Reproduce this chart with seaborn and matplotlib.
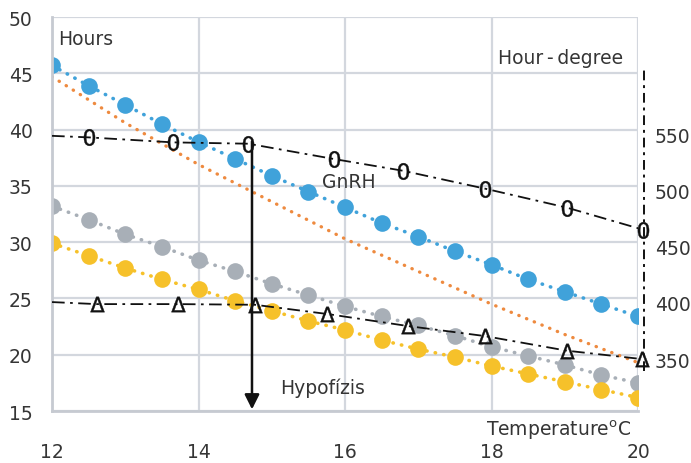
import numpy as np
import pandas as pd
import seaborn as sns
import matplotlib.pyplot as plt

# temperature steps for the dotted series
temp = [12, 12.5, 13, 13.5, 14, 14.5, 15, 15.5, 16, 16.5, 17, 17.5, 18, 18.5, 19, 19.5, 20]
blue_hours = [45.7, 43.9, 42.2, 40.5, 38.9, 37.4, 35.9, 34.5, 33.1, 31.7, 30.5, 29.2, 28.0, 26.7, 25.6, 24.5, 23.4]
grey_hours = [33.2, 32.0, 30.7, 29.6, 28.4, 27.4, 26.3, 25.3, 24.3, 23.4, 22.6, 21.7, 20.7, 19.9, 19.1, 18.2, 17.5]
yellow_hours = [29.9, 28.8, 27.7, 26.7, 25.8, 24.8, 23.9, 23.0, 22.2, 21.3, 20.5, 19.8, 19.0, 18.3, 17.6, 16.9, 16.2]

orange_temp = [12, 13, 14, 15, 16, 17, 18, 19, 20]
orange_hours = [44.7, 40.6, 36.9, 33.6, 30.3, 27.4, 24.5, 21.8, 19.3]

# hour-degree curves (right axis)
gnrh_temp = [12, 12.51, 13.65, 14.68, 15.85, 16.79, 17.91, 19.03, 20.07]
gnrh_hd = [548.5, 547.1, 542.7, 541.5, 527.9, 517.5, 501.6, 484.7, 465.1]
gnrh_marked = [False, True, True, True, True, True, True, True, True]

hypo_temp = [12, 12.61, 13.72, 14.77, 15.76, 16.86, 17.91, 19.03, 20.05]
hypo_hd = [400.8, 399.0, 399.0, 398.4, 390.2, 379.5, 370.6, 357.6, 350.2]
hypo_marked = [False, True, True, True, True, True, True, True, True]

x_ticks = [12, 14, 16, 18, 20]
left_ticks = [15, 20, 25, 30, 35, 40, 45, 50]
right_ticks = [350, 400, 450, 500, 550]

txt = '#353535'
grid_c = '#d3d7de'
fs = 13.5

sns.set_theme(style='white')
plt.rcParams['font.family'] = ['DejaVu Sans']

fig, ax = plt.subplots(figsize=(6.91, 4.64), dpi=100)
fig.subplots_adjust(left=0.0753, right=0.9233, bottom=0.112, top=0.961)

dot_style = dict(linestyle=(0, (0.1, 2.3)), dash_capstyle='round', linewidth=2.6,
                 marker='o', markersize=12, markeredgewidth=0)

df = pd.DataFrame({'temp': temp, 'blue': blue_hours, 'grey': grey_hours, 'yellow': yellow_hours})
sns.lineplot(data=df, x='temp', y='grey', color='#a8afb7', ax=ax, **dot_style)
sns.lineplot(data=df, x='temp', y='yellow', color='#f6c12a', ax=ax, **dot_style)
sns.lineplot(data=df, x='temp', y='blue', color='#40a2da', ax=ax, **dot_style)
sns.lineplot(x=orange_temp, y=orange_hours, color='#ee8a3f', ax=ax,
             linestyle=(0, (0.1, 2.4)), dash_capstyle='round', linewidth=2.4)

ax.set_xlim(12, 20)
ax.set_ylim(15, 50)
ax.set_xticks(x_ticks)
ax.set_yticks(left_ticks)
ax.set_xlabel('')
ax.set_ylabel('')
ax.grid(True, color=grid_c, linewidth=1.6)
ax.set_axisbelow(True)
for side in ['top', 'right']:
    ax.spines[side].set_visible(False)
for side in ['left', 'bottom']:
    ax.spines[side].set_color('#c6cad1')
    ax.spines[side].set_linewidth(2)
ax.tick_params(axis='x', length=0, pad=22, labelsize=fs, labelcolor=txt)
ax.tick_params(axis='y', length=0, pad=14, labelsize=fs, labelcolor=txt)

ax2 = ax.twinx()
ax2.set_ylim(304, 654)
ax2.set_yticks(right_ticks)
for side in ax2.spines:
    ax2.spines[side].set_visible(False)
ax2.tick_params(axis='y', length=0, pad=12, labelsize=fs, labelcolor=txt)

dashdot = (0, (7, 3, 1.5, 3))
sns.lineplot(x=gnrh_temp, y=gnrh_hd, color='#111111', linewidth=1.3, linestyle=dashdot, ax=ax2)
sns.lineplot(x=hypo_temp, y=hypo_hd, color='#111111', linewidth=1.3, linestyle=dashdot, ax=ax2)
ax2.plot([t for t, m in zip(gnrh_temp, gnrh_marked) if m], [v for v, m in zip(gnrh_hd, gnrh_marked) if m],
         linestyle='none', marker='$0$', markersize=12, markeredgewidth=0.3, color='#111111', clip_on=False)
ax2.plot([t for t, m in zip(hypo_temp, hypo_marked) if m], [v for v, m in zip(hypo_hd, hypo_marked) if m],
         linestyle='none', marker=r'$\Delta$', markersize=11, markeredgewidth=0.3, color='#111111',
         clip_on=False)

# right axis rule
ax2.plot([20.08, 20.08], [340, 608], color='#111111', linewidth=1.4, linestyle=(0, (5, 2.5, 1.5, 2.5)),
         clip_on=False)

# arrow
ax2.annotate('', xy=(14.73, 305.5), xytext=(14.73, 543.5),
             arrowprops=dict(arrowstyle='-|>', color='#111111', lw=1.8, mutation_scale=22,
                             shrinkA=0, shrinkB=0))
ax2.set_xlim(12, 20)
ax2.set_ylabel('')

ax.text(12.08, 48.1, 'Hours', fontsize=fs, color=txt, va='center', ha='left')
ax.text(19.8, 46.4, 'Hour\u2009-\u2009degree', fontsize=fs, color=txt, va='center', ha='right')
ax.text(15.69, 35.4, 'GnRH', fontsize=fs, color=txt, va='center', ha='left')
ax.text(15.11, 17.1, 'Hypofízis', fontsize=fs, color=txt, va='center', ha='left')
ax.text(19.9, 13.4, 'Temperature$^{\\mathregular{o}}$C', fontsize=fs, color=txt,
        va='center', ha='right', clip_on=False)

fig.savefig('out.png', dpi=100)
